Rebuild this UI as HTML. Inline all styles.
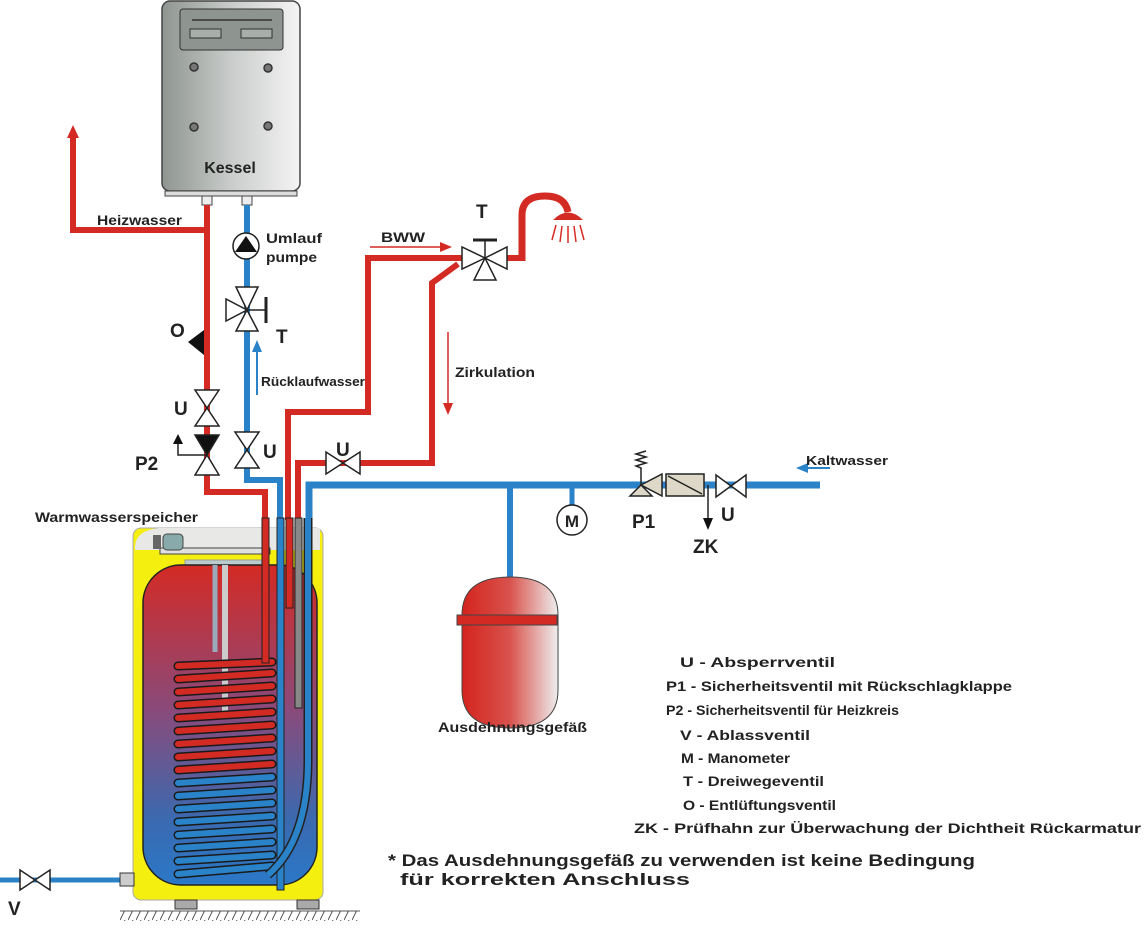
<!DOCTYPE html>
<html><head><meta charset="utf-8"><style>
html,body{margin:0;padding:0;background:#fff}
svg{display:block}
text{font-family:"Liberation Sans",Arial,sans-serif;font-weight:bold;fill:#222}
</style></head><body>
<svg width="1146" height="943" viewBox="0 0 1146 943" xmlns="http://www.w3.org/2000/svg">
<defs>
<linearGradient id="boil" x1="0" x2="1"><stop offset="0" stop-color="#8f9590"/><stop offset="0.5" stop-color="#c9ccca"/><stop offset="1" stop-color="#f4f4f4"/></linearGradient>
<linearGradient id="tankg" x1="0" y1="0" x2="0" y2="1"><stop offset="0" stop-color="#d42a24"/><stop offset="0.45" stop-color="#8a4a7a"/><stop offset="0.8" stop-color="#3a6ab0"/><stop offset="1" stop-color="#2a78c8"/></linearGradient>
<linearGradient id="expg" x1="0" x2="1"><stop offset="0" stop-color="#d4241e"/><stop offset="0.5" stop-color="#d9524c"/><stop offset="1" stop-color="#eee"/></linearGradient>
<pattern id="hatch" width="8" height="10" patternUnits="userSpaceOnUse"><line x1="0" y1="10" x2="5" y2="0" stroke="#555" stroke-width="1"/></pattern>
</defs>

<!-- Boiler -->
<rect x="162" y="1" width="138" height="190" rx="8" fill="url(#boil)" stroke="#444" stroke-width="1.5"/>
<rect x="180" y="9" width="103" height="41" rx="3" fill="#8e948f" stroke="#333"/>
<line x1="192" y1="20" x2="272" y2="20" stroke="#333" stroke-width="1.5"/>
<rect x="190" y="29" width="31" height="9" fill="#a8aea9" stroke="#333"/>
<rect x="241" y="29" width="31" height="9" fill="#a8aea9" stroke="#333"/>
<circle cx="194" cy="67" r="4" fill="#777" stroke="#333" stroke-width="1.5"/>
<circle cx="268" cy="68" r="4" fill="#777" stroke="#333" stroke-width="1.5"/>
<circle cx="194" cy="127" r="4" fill="#777" stroke="#333" stroke-width="1.5"/>
<circle cx="268" cy="126" r="4" fill="#777" stroke="#333" stroke-width="1.5"/>
<text x="230" y="173" font-size="16" text-anchor="middle">Kessel</text>
<rect x="165" y="191" width="132" height="5" fill="#ddd" stroke="#444"/>
<rect x="202" y="196" width="10" height="9" fill="#eee" stroke="#444"/>
<rect x="242" y="196" width="10" height="9" fill="#eee" stroke="#444"/>

<!-- Heizwasser -->
<polyline points="73,135 73,230 207,230" fill="none" stroke="#d42a24" stroke-width="6"/>
<polygon points="73,125 67,138 79,138" fill="#d42a24"/>
<text x="97" y="225" font-size="14" textLength="85" lengthAdjust="spacingAndGlyphs">Heizwasser</text>

<polyline points="207,205 207,492 265,492 265,520" fill="none" stroke="#d42a24" stroke-width="6"/>
<polyline points="247,205 247,480 280,480 280,520" fill="none" stroke="#2a82c8" stroke-width="6"/>

<circle cx="246" cy="246" r="13" fill="#fff" stroke="#222" stroke-width="1.5"/>
<polygon points="246,236 257,252 235,252" fill="#111"/>
<text x="266" y="243" font-size="14" textLength="56" lengthAdjust="spacingAndGlyphs">Umlauf</text>
<text x="266" y="262" font-size="14" textLength="51" lengthAdjust="spacingAndGlyphs">pumpe</text>

<g stroke="#222" stroke-width="1.5" fill="#fff">
<polygon points="236,287 258,287 247,310"/>
<polygon points="236,331 258,331 247,310"/>
<polygon points="226,299 226,321 247,310"/>
<line x1="247" y1="310" x2="266" y2="310"/><line x1="266" y1="297" x2="266" y2="323" stroke-width="3"/>
</g>
<text x="276" y="343" font-size="19">T</text>
<line x1="257" y1="395" x2="257" y2="348" stroke="#2a82c8" stroke-width="2"/>
<polygon points="257,340 252,352 262,352" fill="#2a82c8"/>
<text x="261" y="386" font-size="13" textLength="104" lengthAdjust="spacingAndGlyphs">Rücklaufwasser</text>

<polygon points="204,330 204,355 188,342" fill="#111"/>
<text x="170" y="337" font-size="19">O</text>

<g stroke="#222" stroke-width="1.5" fill="#fff">
<polygon points="195,390 219,390 207,408"/><polygon points="195,426 219,426 207,408"/>
<polygon points="195,435 219,435 207,455" fill="#111"/><polygon points="195,475 219,475 207,455"/>
<polyline points="207,455 178,455 178,442" fill="none"/>
</g>
<polygon points="178,434 173,444 183,444" fill="#111"/>
<text x="174" y="415" font-size="19">U</text>
<text x="135" y="470" font-size="19">P2</text>

<g stroke="#222" stroke-width="1.5" fill="#fff">
<polygon points="235,432 259,432 247,450"/><polygon points="235,468 259,468 247,450"/>
</g>
<text x="263" y="458" font-size="19">U</text>

<polyline points="288,520 288,412 368,412 368,258 462,258" fill="none" stroke="#d42a24" stroke-width="6"/>
<polyline points="298,520 298,463 432,463 432,283 458,264" fill="none" stroke="#d42a24" stroke-width="6"/>
<polyline points="309,520 309,485 820,485" fill="none" stroke="#2a82c8" stroke-width="7"/>
<line x1="510" y1="485" x2="510" y2="580" stroke="#2a82c8" stroke-width="6"/>
<line x1="572" y1="485" x2="572" y2="505" stroke="#2a82c8" stroke-width="5"/>

<g stroke="#222" stroke-width="1.5" fill="#fff">
<polygon points="326,452 326,474 343,463"/><polygon points="360,452 360,474 343,463"/>
</g>
<text x="336" y="456" font-size="19">U</text>

<line x1="505" y1="258" x2="522" y2="258" stroke="#d42a24" stroke-width="6"/>
<path d="M522,261 L522,215 Q522,196 545,196 Q565,196 568,212" fill="none" stroke="#d42a24" stroke-width="7"/>
<path d="M553,220 Q568,205 583,220 Z" fill="#d42a24"/>
<g stroke="#d42a24" stroke-width="1.5">
<line x1="556" y1="225" x2="552" y2="240"/><line x1="562" y1="226" x2="560" y2="242"/><line x1="568" y1="226" x2="568" y2="243"/><line x1="574" y1="226" x2="576" y2="242"/><line x1="580" y1="225" x2="584" y2="240"/>
</g>
<g stroke="#222" stroke-width="1.5" fill="#fff">
<polygon points="462,247 462,269 485,258"/><polygon points="507,247 507,269 485,258"/>
<polygon points="474,280 496,280 485,258"/>
<line x1="485" y1="258" x2="485" y2="240"/><line x1="473" y1="240" x2="497" y2="240" stroke-width="3"/>
</g>
<text x="476" y="218" font-size="19">T</text>
<text x="381" y="242" font-size="14" textLength="44" lengthAdjust="spacingAndGlyphs">BWW</text>
<line x1="370" y1="247" x2="442" y2="247" stroke="#d42a24" stroke-width="1.5"/>
<polygon points="452,247 440,242 440,252" fill="#d42a24"/>
<line x1="448" y1="332" x2="448" y2="405" stroke="#d42a24" stroke-width="1.5"/>
<polygon points="448,415 443,403 453,403" fill="#d42a24"/>
<text x="455" y="377" font-size="14" textLength="80" lengthAdjust="spacingAndGlyphs">Zirkulation</text>

<circle cx="572" cy="520" r="15" fill="#fff" stroke="#222" stroke-width="1.5"/>
<text x="572" y="527" font-size="17" text-anchor="middle">M</text>

<g stroke="#222" stroke-width="1.5" fill="#ddd8c8">
<polygon points="630,496 652,496 641,485"/>
<polygon points="662,474 662,496 641,485"/>
<rect x="666" y="474" width="38" height="22"/>
<line x1="668" y1="476" x2="702" y2="494"/>
<polygon points="716,475 716,497 731,486" fill="#fff"/><polygon points="746,475 746,497 731,486" fill="#fff"/>
<polyline points="641,485 641,468 636,466 646,463 636,460 646,457 636,454 646,451" fill="none"/>
</g>
<line x1="708" y1="485" x2="708" y2="520" stroke="#222" stroke-width="1.5"/>
<polygon points="708,530 703,518 713,518" fill="#111"/>
<text x="632" y="528" font-size="19">P1</text>
<text x="721" y="521" font-size="19">U</text>
<text x="693" y="553" font-size="19">ZK</text>
<line x1="808" y1="468" x2="830" y2="468" stroke="#2a82c8" stroke-width="2"/>
<polygon points="796,468 808,463 808,473" fill="#2a82c8"/>
<text x="806" y="465" font-size="13" textLength="82" lengthAdjust="spacingAndGlyphs">Kaltwasser</text>

<path d="M462,615 Q462,577 510,577 Q558,577 558,615 L558,690 Q558,728 510,728 Q462,728 462,690 Z" fill="url(#expg)" stroke="#444" stroke-width="1"/>
<rect x="457" y="615" width="100" height="10" fill="#d42a24" stroke="#444"/>
<text x="438" y="732" font-size="14" textLength="149" lengthAdjust="spacingAndGlyphs">Ausdehnungsgefäß</text>

<!-- tank -->
<text x="35" y="522" font-size="14" textLength="163" lengthAdjust="spacingAndGlyphs">Warmwasserspeicher</text>
<rect x="133" y="528" width="190" height="372" rx="8" fill="#f5ef10" stroke="#aaa" stroke-width="1"/>
<path d="M135,548 Q135,530 160,528 L320,528 L320,550 L135,550 Z" fill="#e8e8e6"/>
<rect x="160" y="548" width="110" height="6" fill="#e0e0e0" stroke="#444"/>
<rect x="153" y="535" width="8" height="14" fill="#666"/>
<rect x="163" y="534" width="20" height="16" rx="4" fill="#8aa" stroke="#444"/>
<rect x="185" y="560" width="80" height="8" fill="#bcc" stroke="#999"/>
<rect x="143" y="565" width="174" height="320" rx="38" fill="url(#tankg)" stroke="#222" stroke-width="1.5"/>
<line x1="215" y1="565" x2="215" y2="652" stroke="#9ab" stroke-width="5"/>
<line x1="225" y1="565" x2="225" y2="712" stroke="#ccc" stroke-width="6"/>
<g stroke-linecap="round" fill="none">
<g stroke="#1a1a1a" stroke-width="9">
<path d="M178,666 L272,662 M178,679 L272,673 M178,692 L272,686 M178,705 L272,699 M178,718 L272,712 M178,731 L272,725 M178,744 L272,738 M178,757 L272,751 M178,770 L272,764"/>
<path d="M178,783 L272,777 M178,796 L272,790 M178,809 L272,803 M178,822 L272,816 M178,835 L272,829 M178,848 L272,842 M178,861 L272,855 M178,874 L272,866"/>
</g>
<path stroke="#d42a24" stroke-width="6" d="M178,666 L272,662 M178,679 L272,673 M178,692 L272,686 M178,705 L272,699 M178,718 L272,712 M178,731 L272,725 M178,744 L272,738 M178,757 L272,751 M178,770 L272,764"/>
<path stroke="#2a82c8" stroke-width="6" d="M178,783 L272,777 M178,796 L272,790 M178,809 L272,803 M178,822 L272,816 M178,835 L272,829 M178,848 L272,842 M178,861 L272,855 M178,874 L272,866"/>
</g>
<g stroke="#222" stroke-width="1">
<rect x="262" y="518" width="7" height="145" fill="#d42a24"/>
<rect x="277" y="518" width="7" height="372" fill="#2a82c8"/>
<rect x="286" y="518" width="7" height="90" fill="#d42a24"/>
<rect x="295" y="518" width="7" height="190" fill="#888"/>
</g>
<path d="M308,518 L308,760 Q308,840 268,875" fill="none" stroke="#222" stroke-width="9"/>
<path d="M308,518 L308,760 Q308,840 268,875" fill="none" stroke="#2a82c8" stroke-width="6"/>
<rect x="175" y="900" width="22" height="9" fill="#aaa" stroke="#333"/>
<rect x="297" y="900" width="22" height="9" fill="#aaa" stroke="#333"/>
<rect x="120" y="911" width="240" height="10" fill="url(#hatch)"/>
<line x1="120" y1="911" x2="360" y2="911" stroke="#555"/>

<line x1="0" y1="880" x2="122" y2="880" stroke="#2a82c8" stroke-width="5"/>
<rect x="120" y="873" width="14" height="13" fill="#ccc" stroke="#333"/>
<g stroke="#222" stroke-width="1.5" fill="#fff">
<polygon points="20,870 20,890 35,880"/><polygon points="50,870 50,890 35,880"/>
</g>
<text x="8" y="915" font-size="19">V</text>

<g font-size="14" lengthAdjust="spacingAndGlyphs">
<text x="680" y="667" textLength="155" lengthAdjust="spacingAndGlyphs">U - Absperrventil</text>
<text x="666" y="691" textLength="346" lengthAdjust="spacingAndGlyphs">P1 - Sicherheitsventil mit Rückschlagklappe</text>
<text x="666" y="715" textLength="233" lengthAdjust="spacingAndGlyphs">P2 - Sicherheitsventil für  Heizkreis</text>
<text x="680" y="740" textLength="130" lengthAdjust="spacingAndGlyphs">V - Ablassventil</text>
<text x="681" y="763" textLength="109" lengthAdjust="spacingAndGlyphs">M -  Manometer</text>
<text x="683" y="786" textLength="141" lengthAdjust="spacingAndGlyphs">T - Dreiwegeventil</text>
<text x="683" y="810" textLength="153" lengthAdjust="spacingAndGlyphs">O - Entlüftungsventil</text>
<text x="634" y="833" textLength="507" lengthAdjust="spacingAndGlyphs">ZK - Prüfhahn zur Überwachung der Dichtheit Rückarmatur</text>
</g>
<text x="388" y="866" font-size="17" textLength="587" lengthAdjust="spacingAndGlyphs">* Das Ausdehnungsgefäß zu verwenden ist keine Bedingung</text>
<text x="400" y="885" font-size="17" textLength="290" lengthAdjust="spacingAndGlyphs">für korrekten Anschluss</text>
</svg>
</body></html>
